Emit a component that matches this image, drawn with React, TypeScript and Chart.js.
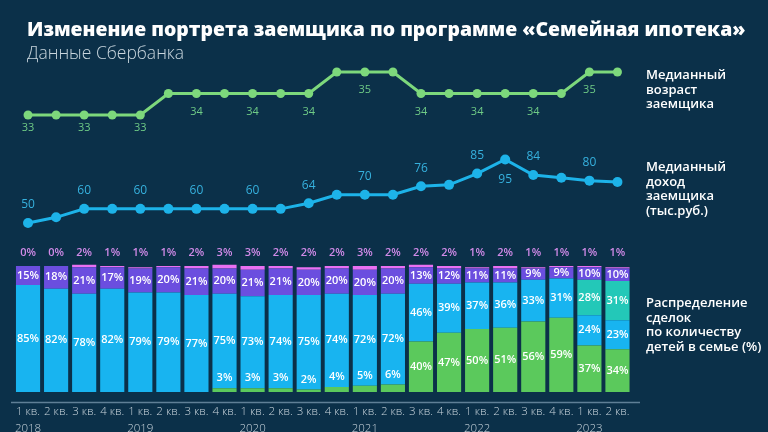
import React, { useEffect, useRef } from "react";
import { Chart, registerables } from "chart.js";

Chart.register(...registerables);

// ---------- DATA ----------
const quarterLabels = [
  "1 кв.", "2 кв.", "3 кв.", "4 кв.",
  "1 кв.", "2 кв.", "3 кв.", "4 кв.",
  "1 кв.", "2 кв.", "3 кв.", "4 кв.",
  "1 кв.", "2 кв.", "3 кв.", "4 кв.",
  "1 кв.", "2 кв.", "3 кв.", "4 кв.",
  "1 кв.", "2 кв.",
];
const yearLabels = [
  "2018", "", "", "",
  "2019", "", "", "",
  "2020", "", "", "",
  "2021", "", "", "",
  "2022", "", "", "",
  "2023", "",
];

// Median borrower age (years)
const medianAge = [33, 33, 33, 33, 33, 34, 34, 34, 34, 34, 34, 35, 35, 35, 34, 34, 34, 34, 34, 34, 35, 35];
const ageLabelIdx = [0, 2, 4, 6, 8, 10, 12, 14, 16, 18, 20];

// Median borrower income (thousand rub.)
const medianIncome = [50, 54, 60, 60, 60, 60, 60, 60, 60, 60, 64, 70, 70, 70, 76, 77, 85, 95, 84, 82, 80, 79];
const incomeLabelAbove = [0, 2, 4, 6, 8, 10, 12, 14, 16, 18, 20];
const incomeLabelBelow = [17];

// Deals by number of children (%), bottom to top
const shareGreen = [0, 0, 0, 0, 0, 0, 0, 3, 3, 3, 2, 4, 5, 6, 40, 47, 50, 51, 56, 59, 37, 34];
const shareCyan = [85, 82, 78, 82, 79, 79, 77, 75, 73, 74, 75, 74, 72, 72, 46, 39, 37, 36, 33, 31, 24, 23];
const shareTeal = [0, 0, 0, 0, 0, 0, 0, 0, 0, 0, 0, 0, 0, 0, 0, 0, 0, 0, 0, 0, 28, 31];
const sharePurple = [15, 18, 21, 17, 19, 20, 21, 20, 21, 21, 20, 20, 20, 20, 13, 12, 11, 11, 9, 9, 10, 10];
const sharePink = [0, 0, 2, 1, 1, 1, 2, 3, 3, 2, 2, 2, 3, 2, 2, 2, 1, 2, 1, 1, 1, 1];

// ---------- STYLE ----------
const BG = "#0b3049";
const C_AGE = "#7dd87c";
const C_AGE_LABEL = "#6fcb86";
const C_INCOME = "#1db3e9";
const C_INCOME_LABEL = "#36b1de";
const C_GREEN = "#5bc95c";
const C_CYAN = "#18b4f0";
const C_TEAL = "#23c8b8";
const C_PURPLE = "#6b4edf";
const C_PINK = "#ea70f2";
const C_PINK_LABEL = "#d08ae8";
const FONT = "'Open Sans', 'Noto Sans', sans-serif";

const labelPlugin = {
  id: "valueLabels",
  afterDatasetsDraw(chart: any) {
    const ctx = chart.ctx;
    ctx.save();
    ctx.textAlign = "center";
    ctx.textBaseline = "middle";
    const yBar = chart.scales.yBar;
    chart.data.datasets.forEach((ds: any, di: number) => {
      const meta = chart.getDatasetMeta(di);
      if (ds.kind === "bar") {
        ctx.font = `600 11px ${FONT}`;
        meta.data.forEach((el: any, j: number) => {
          const v = ds.data[j];
          if (ds.seg === "pink") {
            ctx.fillStyle = C_PINK_LABEL;
            ctx.fillText(v + "%", el.x, yBar.getPixelForValue(100) - 13);
            return;
          }
          if (!v) return;
          ctx.fillStyle = "#ffffff";
          let y = (el.y + el.base) / 2;
          if (ds.seg === "green" && v < 10) y = el.y - 10;
          ctx.fillText(v + "%", el.x, y);
        });
      } else if (ds.kind === "age") {
        ctx.font = `400 11px ${FONT}`;
        ctx.fillStyle = C_AGE_LABEL;
        ageLabelIdx.forEach((j) => {
          const el = meta.data[j];
          const off = ds.data[j] === 33 ? 13 : 18;
          ctx.fillText(String(ds.data[j]), el.x, el.y + off);
        });
      } else if (ds.kind === "income") {
        ctx.font = `400 12px ${FONT}`;
        ctx.fillStyle = C_INCOME_LABEL;
        incomeLabelAbove.forEach((j) => {
          const el = meta.data[j];
          ctx.fillText(String(ds.data[j]), el.x, el.y - 18);
        });
        incomeLabelBelow.forEach((j) => {
          const el = meta.data[j];
          ctx.fillText(String(ds.data[j]), el.x, el.y + 20);
        });
      }
    });
    ctx.restore();
  },
  afterDraw(chart: any) {
    const ctx = chart.ctx;
    const y = chart.chartArea.bottom - 0.5;
    ctx.save();
    ctx.strokeStyle = "#5f7f96";
    ctx.lineWidth = 1.5;
    ctx.beginPath();
    ctx.moveTo(11, y);
    ctx.lineTo(640, y);
    ctx.stroke();
    ctx.restore();
  },
};

export default function App() {
  const canvasRef = useRef<HTMLCanvasElement | null>(null);

  useEffect(() => {
    document.body.style.margin = "0";
    document.body.style.overflow = "hidden";
    const canvas = canvasRef.current;
    if (!canvas) return;
    const labels = quarterLabels.map((q, i) => (yearLabels[i] ? [q, yearLabels[i]] : q));
    const barCommon = {
      type: "bar" as const,
      kind: "bar",
      yAxisID: "yBar",
      stack: "s",
      barPercentage: 0.86,
      categoryPercentage: 1,
      borderWidth: 0,
      order: 2,
    };
    const chart = new Chart(canvas, {
      type: "bar",
      data: {
        labels,
        datasets: [
          { ...barCommon, seg: "green", data: shareGreen, backgroundColor: C_GREEN } as any,
          { ...barCommon, seg: "cyan", data: shareCyan, backgroundColor: C_CYAN } as any,
          { ...barCommon, seg: "teal", data: shareTeal, backgroundColor: C_TEAL } as any,
          { ...barCommon, seg: "purple", data: sharePurple, backgroundColor: C_PURPLE } as any,
          { ...barCommon, seg: "pink", data: sharePink, backgroundColor: C_PINK } as any,
          {
            type: "line",
            kind: "age",
            data: medianAge,
            yAxisID: "yAge",
            borderColor: C_AGE,
            backgroundColor: C_AGE,
            borderWidth: 3,
            pointRadius: 4.5,
            pointBorderWidth: 0,
            tension: 0,
            order: 1,
          } as any,
          {
            type: "line",
            kind: "income",
            data: medianIncome,
            yAxisID: "yIncome",
            borderColor: C_INCOME,
            backgroundColor: C_INCOME,
            borderWidth: 3,
            pointRadius: 5,
            pointBorderWidth: 0,
            tension: 0,
            order: 1,
          } as any,
        ],
      },
      options: {
        responsive: false,
        animation: false,
        devicePixelRatio: 1,
        layout: { padding: { top: 60, left: 14, right: 136.5, bottom: 0 } },
        plugins: {
          legend: { display: false },
          tooltip: { enabled: false },
        },
        scales: {
          x: {
            grid: { display: false, drawTicks: false },
            border: { display: false },
            ticks: {
              color: "#c8d4dc",
              font: { family: FONT, size: 11.5, weight: 300, lineHeight: 1.5 },
              padding: 0,
              autoSkip: false,
              maxRotation: 0,
              minRotation: 0,
            },
            afterFit: (scale: any) => {
              scale.height = 29;
            },
          },
          yBar: { display: false, stacked: true, min: -8.73, max: 263.5 },
          yAge: { display: false, min: 19.6, max: 35.56 },
          yIncome: { display: false, min: -77.6, max: 165.5 },
        },
      } as any,
      plugins: [labelPlugin],
    });
    return () => chart.destroy();
  }, []);

  const side: React.CSSProperties = {
    position: "absolute",
    left: 646,
    color: "#ffffff",
    fontFamily: FONT,
    fontWeight: 600,
    fontSize: 13,
    lineHeight: "14.5px",
    whiteSpace: "nowrap",
  };

  return (
    <div
      style={{
        position: "absolute",
        left: 0,
        top: 0,
        width: 768,
        height: 432,
        background: BG,
        overflow: "hidden",
      }}
    >
      <canvas ref={canvasRef} width={768} height={432} style={{ position: "absolute", left: 0, top: 0 }} />
      <div
        style={{
          position: "absolute",
          left: 27,
          top: 15,
          color: "#ffffff",
          fontFamily: FONT,
          fontWeight: 800,
          fontSize: 19.4,
          whiteSpace: "nowrap",
        }}
      >
        Изменение портрета заемщика по программе «Семейная ипотека»
      </div>
      <div
        style={{
          position: "absolute",
          left: 27,
          top: 40,
          color: "#c9d6de",
          fontFamily: FONT,
          fontWeight: 300,
          fontSize: 17.5,
          whiteSpace: "nowrap",
        }}
      >
        Данные Сбербанка
      </div>
      <div style={{ ...side, top: 67 }}>
        Медианный<br />возраст<br />заемщика
      </div>
      <div style={{ ...side, top: 159 }}>
        Медианный<br />доход<br />заемщика<br />(тыс.руб.)
      </div>
      <div style={{ ...side, top: 295 }}>
        Распределение<br />сделок<br />по количеству<br />детей в семье (%)
      </div>
    </div>
  );
}
